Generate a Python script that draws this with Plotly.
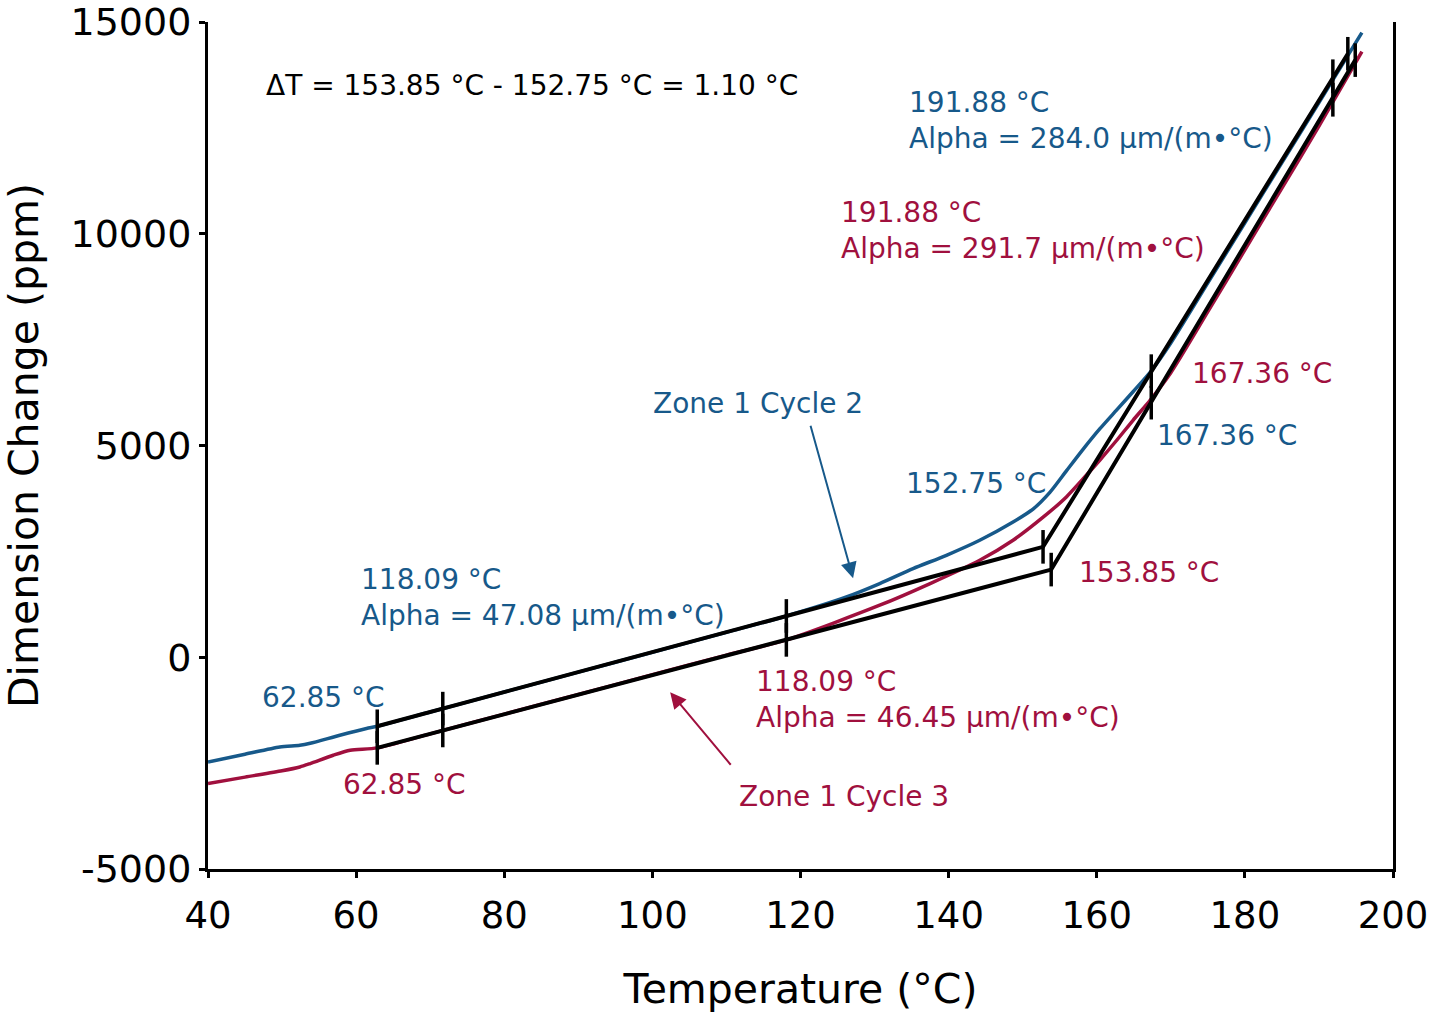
import plotly.graph_objects as go

temp_c2 = [40, 45, 49.7, 52.4, 53.8, 57.8, 61.4, 62.85, 70, 80, 90, 100, 110, 118.1,
           126.2, 130.7, 135.2, 139.7, 144.2, 148.7, 151.4, 153.7, 155.9, 158.2, 160.4,
           162.7, 164.9, 167.4, 170, 175, 180, 185, 190, 195.8]
dim_c2 = [-2472, -2290, -2118, -2078, -2031, -1842, -1684, -1630, -1293, -822, -352, 119, 590, 975,
          1424, 1740, 2094, 2408, 2763, 3195, 3500, 3900, 4400, 4920, 5390,
          5840, 6270, 6770, 7420, 8840, 10260, 11680, 13100, 14750]

# Cycle 3 (red) measured curve
temp_c3 = [40, 45, 50, 52.4, 53.8, 56.9, 59.2, 62.85, 70, 80, 90, 100, 110, 118.1,
           130.7, 137.5, 144.2, 148.7, 152.8, 155.9, 158.2, 160.4, 162.7, 164.9, 167.2,
           170, 175, 180, 185, 190, 195.8]
dim_c3 = [-2983, -2830, -2680, -2590, -2510, -2314, -2196, -2140, -1808, -1343, -879, -414, 50, 410,
          1228, 1740, 2290, 2763, 3313, 3786, 4221, 4652, 5124, 5596, 6068,
          6720, 8160, 9620, 11080, 12540, 14300]

# tangent (alpha) lines
fit_t_c2 = [62.85, 152.75, 193.9]
fit_d_c2 = [-1630, 2607, 14250]
fit_t_c3 = [62.85, 153.85, 194.9]
fit_d_c3 = [-2140, 2070, 14100]

# tick marks on the tangent lines
mark_t_c2 = [62.85, 71.7, 118.09, 152.75, 167.36, 191.88, 193.9]
mark_d_c2 = [-1630, -1213, 975, 2607, 6756, 13720, 14250]
mark_t_c3 = [62.85, 71.7, 118.09, 153.85, 167.36, 191.88, 194.9]
mark_d_c3 = [-2140, -1729, 410, 2070, 6011, 13163, 14100]

x_ticks = [40, 60, 80, 100, 120, 140, 160, 180, 200]
y_ticks = [-5000, 0, 5000, 10000, 15000]
y_tick_text = ['-5000', '0', '5000', '10000', '15000']

BLUE = '#17598a'
RED = '#a0103e'
FONT = 'DejaVu Sans'

fig = go.Figure()

fig.add_trace(go.Scatter(x=temp_c2, y=dim_c2, mode='lines', line=dict(color=BLUE, width=3.5, shape='spline', smoothing=0.7)))
fig.add_trace(go.Scatter(x=temp_c3, y=dim_c3, mode='lines', line=dict(color=RED, width=3.5, shape='spline', smoothing=0.7)))

for t, d in [(fit_t_c2, fit_d_c2), (fit_t_c3, fit_d_c3)]:
    fig.add_trace(go.Scatter(x=t, y=d, mode='lines', line=dict(color='black', width=4)))

for t, d in [(mark_t_c2, mark_d_c2), (mark_t_c3, mark_d_c3)]:
    fig.add_trace(go.Scatter(x=t, y=d, mode='markers',
                             marker=dict(symbol='line-ns-open', size=24, color='black',
                                         line=dict(color='black', width=3.5))))

# text labels
labels = [
    (47.56, 13506, 'ΔT = 153.85 °C - 152.75 °C = 1.10 °C', 'black'),
    (134.4, 12680, '191.88 °C<br>Alpha = 284.0 µm/(m•°C)', BLUE),
    (125.2, 10083, '191.88 °C<br>Alpha = 291.7 µm/(m•°C)', RED),
    (172.6, 6706, '167.36 °C', RED),
    (167.9, 5242, '167.36 °C', BLUE),
    (99.8, 5998, 'Zone 1 Cycle 2', BLUE),
    (134.0, 4109, '152.75 °C', BLUE),
    (157.3, 2007, '153.85 °C', RED),
    (60.4, 1417, '118.09 °C<br>Alpha = 47.08 µm/(m•°C)', BLUE),
    (47.0, -945, '62.85 °C', BLUE),
    (113.7, -992, '118.09 °C<br>Alpha = 46.45 µm/(m•°C)', RED),
    (58.0, -2999, '62.85 °C', RED),
    (111.4, -3282, 'Zone 1 Cycle 3', RED),
]
for x, y, txt, col in labels:
    fig.add_annotation(x=x, y=y, text=txt, showarrow=False, xanchor='left', yanchor='middle',
                       align='left', font=dict(family=FONT, size=28, color=col))

# arrows pointing at the curves
fig.add_annotation(x=127.1, y=1865, ax=121.3, ay=5502, axref='x', ayref='y', text='',
                   showarrow=True, arrowhead=2, arrowsize=1.6, arrowwidth=2, arrowcolor=BLUE)
fig.add_annotation(x=102.4, y=-826, ax=110.75, ay=-2574, axref='x', ayref='y', text='',
                   showarrow=True, arrowhead=2, arrowsize=1.6, arrowwidth=2, arrowcolor=RED)

fig.update_layout(
    width=1430, height=1014,
    margin=dict(l=208, r=37, t=22, b=145),
    plot_bgcolor='white', paper_bgcolor='white',
    showlegend=False,
    font=dict(family=FONT, color='black'),
    xaxis=dict(range=[40, 200], tickvals=x_ticks, showgrid=False, zeroline=False, automargin=False,
               showline=True, linecolor='black', linewidth=3, ticks='outside', ticklen=6,
               tickwidth=3, tickcolor='black', tickfont=dict(size=37), ticklabeloverflow='allow',
               ticklabelstandoff=6,
               title=dict(text='Temperature (°C)', font=dict(size=41), standoff=38)),
    yaxis=dict(range=[-5000, 15000], tickvals=y_ticks, ticktext=y_tick_text, showgrid=False,
               zeroline=False, automargin=False, ticklabeloverflow='allow',
               showline=True, mirror=True, linecolor='black', linewidth=3, ticks='outside',
               ticklen=6, tickwidth=3, tickcolor='black', tickfont=dict(size=38),
               title=dict(text='Dimension Change (ppm)', font=dict(size=41), standoff=36)),
)

# drop the page's default body margin so the figure fills the window exactly
fig.write_html("out.html", config={'displayModeBar': False},
               post_script="document.body.style.margin = '0px';")
